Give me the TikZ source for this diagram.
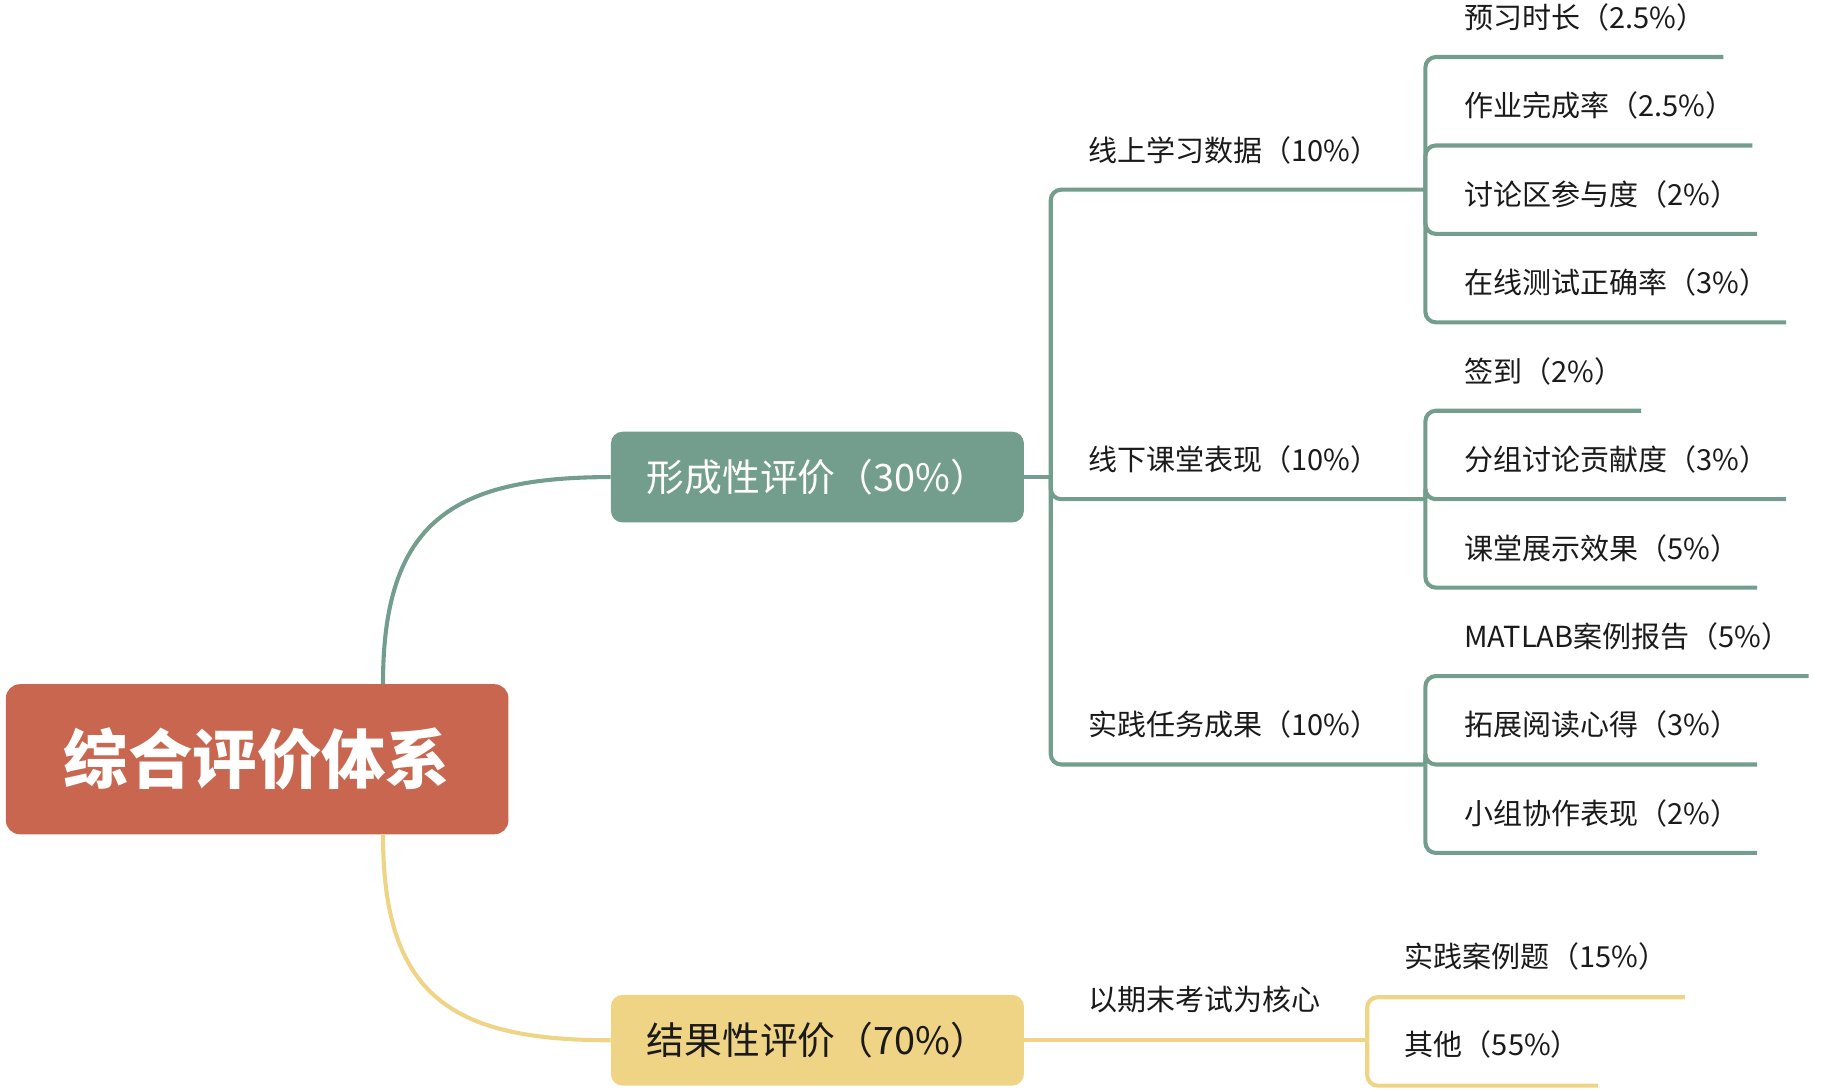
\documentclass[tikz,border=0pt]{standalone}
\usepackage{fontspec}
\setmainfont{Noto Sans CJK SC}
\usetikzlibrary{calc}

\definecolor{rootred}{HTML}{C9664F}
\definecolor{formgreen}{HTML}{739D8C}
\definecolor{resyellow}{HTML}{F0D486}
\definecolor{inkgray}{HTML}{1A1A1A}

\tikzset{
  rootbox/.style={fill=rootred, text=white, rounded corners=0.24cm,
    minimum width=8.64cm, minimum height=2.58cm,
    font=\fontsize{31.5}{36}\selectfont\bfseries},
  mainbox/.style={rounded corners=0.2cm, minimum width=7.1cm, minimum height=1.56cm,
    font=\fontsize{18.5}{22}\selectfont},
  leaf/.style={anchor=west, inner sep=0pt, text=inkgray,
    font=\fontsize{14.2}{17}\selectfont},
  gline/.style={formgreen, line width=2pt, rounded corners=0.18cm},
  yline/.style={resyellow, line width=2pt, rounded corners=0.18cm},
}

\begin{document}
\begin{tikzpicture}[x=0.02cm, y=-0.02cm]
\useasboundingbox (0,0) rectangle (1565,938); % 전체 크기

\node[rootbox] (root) at (221,652.5) {综合评价体系};
\node[mainbox, fill=formgreen, text=white] (form) at (702.5,410) {形成性评价（30\%）};
\node[mainbox, fill=resyellow, text=inkgray] (res) at (702.5,894) {结果性评价（70\%）};

%% 가운데에서 두 갈래
\coordinate (rtop) at ($(root.north west)!0.75!(root.north east)$);
\coordinate (rbot) at ($(root.south west)!0.75!(root.south east)$);
\draw[gline] (rtop) .. controls +(0,-140) and +(-135,0) .. (form.west);
\draw[yline] (rbot) .. controls +(0,140) and +(-135,0) .. (res.west);

%% 형성 평가
\coordinate (fj) at (903,410);
\draw[gline] (form.east) -- (fj);
\foreach \n/\y/\t in {on/129/线上学习数据（10\%）, off/395/线下课堂表现（10\%）, prac/623/实践任务成果（10\%）} {
  \node[leaf] (\n) at (935,\y) {\t};
  \coordinate (\n-end) at (1225,\y+34);
  \draw[gline] (fj) |- (\n-end);
}

\foreach \n/\y/\t in {on1/15/预习时长（2.5\%）, on2/91/作业完成率（2.5\%）, on3/167/讨论区参与度（2\%）, on4/243/在线测试正确率（3\%）} {
  \node[leaf] (\n) at (1258,\y) {\t};
  \draw[gline] (on-end) |- ($(\n.east)+(15,34)$);
}
\foreach \n/\y/\t in {off1/319/签到（2\%）, off2/395/分组讨论贡献度（3\%）, off3/471/课堂展示效果（5\%）} {
  \node[leaf] (\n) at (1258,\y) {\t};
  \draw[gline] (off-end) |- ($(\n.east)+(15,34)$);
}
\foreach \n/\y/\t in {prac1/547/MATLAB案例报告（5\%）, prac2/623/拓展阅读心得（3\%）, prac3/699/小组协作表现（2\%）} {
  \node[leaf] (\n) at (1258,\y) {\t};
  \draw[gline] (prac-end) |- ($(\n.east)+(15,34)$);
}

%% 결과 평가
\node[leaf] (exam) at (935,859) {以期末考试为核心};
\coordinate (exam-end) at (1175,894);
\draw[yline] (res.east) -- (exam-end);
\foreach \n/\y/\t in {ex1/822/实践案例题（15\%）, ex2/898/其他（55\%）} {
  \node[leaf] (\n) at (1207,\y) {\t};
  \draw[yline] (exam-end) |- ($(\n.east)+(15,35)$);
}
\end{tikzpicture}
\end{document}
